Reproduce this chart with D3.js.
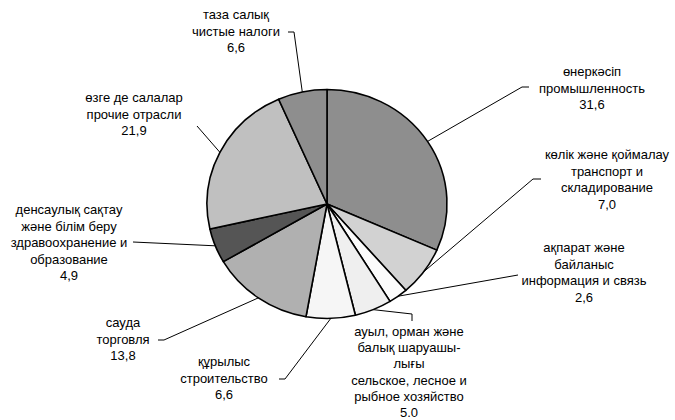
<!DOCTYPE html>
<html>
<head>
<meta charset="utf-8">
<script src="https://cdn.jsdelivr.net/npm/d3@7"></script>
<style>
  body { margin: 0; background: #fff; }
  text { font-family: "Liberation Sans", Arial, sans-serif; font-size: 13px; fill: #000; }
</style>
</head>
<body>
<svg id="chart" width="675" height="420"></svg>
<script>
// sectors, clockwise from 12 o'clock
var sectors = ["промышленность", "транспорт", "связь", "сельское", "строительство",
	"торговля", "здравоохранение", "прочие", "налоги"];
var values = [31.6, 7.0, 2.6, 5.0, 6.6, 13.8, 4.9, 21.9, 6.6];
var valueLabels = ["31,6", "7,0", "2,6", "5.0", "6,6", "13,8", "4,9", "21,9", "6,6"];
var labelLines = [
	["өнеркәсіп", "промышленность"],
	["көлік және қоймалау", "транспорт и", "складирование"],
	["ақпарат және", "байланыс", "информация и связь"],
	["ауыл, орман және", "балық шаруашы-", "лығы", "сельское, лесное и", "рыбное хозяйство"],
	["құрылыс", "строительство"],
	["сауда", "торговля"],
	["денсаулық сақтау", "және білім беру", "здравоохранение и", "образование"],
	["өзге де салалар", "прочие отрасли"],
	["таза салық", "чистые налоги"]
];
var fills = ["#8e8e8e", "#d2d2d2", "#fbfbfb", "#efefef", "#f6f6f6",
	"#b0b0b0", "#555555", "#c0c0c0", "#8e8e8e"];

// label layout: text centre x, first baseline y, line step, leader points after the pie edge
var layout = [
	{x: 592, y: 76, step: 16.5, pts: [[522, 87], [529, 87]]},
	{x: 607, y: 159, step: 16.5, pts: [[533, 179], [541, 179]]},
	{x: 584, y: 252, step: 16.5, pts: [[518, 275]]},
	{x: 409, y: 336, step: 16.2, pts: [[412, 314], [412, 321]]},
	{x: 224, y: 366, step: 16.5, pts: [[285, 379], [279, 379]]},
	{x: 123, y: 327, step: 16.5, pts: [[164, 340], [158, 340]]},
	{x: 69, y: 214, step: 16.5, pts: [[133, 242]]},
	{x: 134, y: 102, step: 16.5, pts: [[197, 126]]},
	{x: 236, y: 19, step: 16.5, pts: [[294, 32], [288, 32]]}
];

var cx = 327, cy = 204, rx = 120, ry = 114.5;

var svg = d3.select("#chart");

var pie = d3.pie().sort(null).value(function(d) { return d; });
var arcs = pie(values);
var arc = d3.arc().innerRadius(0).outerRadius(rx);

var g = svg.append("g")
	.attr("transform", "translate(" + cx + "," + cy + ") scale(1," + (ry / rx) + ")");

g.selectAll("path")
	.data(arcs)
	.enter()
	.append("path")
	.attr("d", arc)
	.style("fill", function(d, i) { return fills[i]; })
	.style("stroke", "#000")
	.style("stroke-width", "1.6")
	.style("stroke-linejoin", "round");

// leader lines
var line = d3.line();
arcs.forEach(function(d, i) {
	var a = (d.startAngle + d.endAngle) / 2;
	var start = [cx + rx * Math.sin(a), cy - ry * Math.cos(a)];
	var pts = [start].concat(layout[i].pts);
	svg.append("path")
		.attr("d", line(pts))
		.style("fill", "none")
		.style("stroke", "#000")
		.style("stroke-width", "1");
});

// labels
labelLines.forEach(function(lines, i) {
	var all = lines.concat([valueLabels[i]]);
	var t = svg.append("text")
		.attr("text-anchor", "middle");
	all.forEach(function(s, k) {
		t.append("tspan")
			.attr("x", layout[i].x)
			.attr("y", layout[i].y + k * layout[i].step)
			.text(s);
	});
});
</script>
</body>
</html>
